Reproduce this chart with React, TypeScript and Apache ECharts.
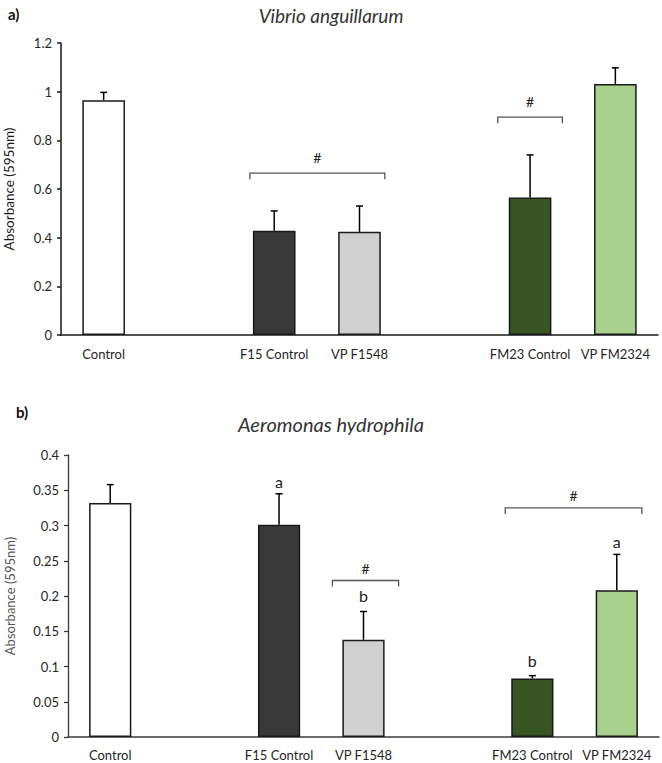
import React, { useEffect, useRef } from "react";
import * as echarts from "echarts";

// Treatment groups; empty strings are spacer slots between groups
const categories = ["Control", "", "F15 Control", "VP F1548", "", "FM23 Control", "VP FM2324"];

// Vibrio anguillarum: mean absorbance and standard deviation
const vibrioMean = [0.965, null, 0.428, 0.424, null, 0.565, 1.032];
const vibrioSd = [0.032, null, 0.082, 0.106, null, 0.175, 0.066];

// Aeromonas hydrophila: mean absorbance and standard deviation
const aeroMean = [0.332, null, 0.301, 0.138, null, 0.083, 0.208];
const aeroSd = [0.026, null, 0.044, 0.04, null, 0.004, 0.051];

// Significance brackets (category from/to, height in axis units)
const vibrioBrackets = [
  { from: "F15 Control", to: "VP F1548", y: 0.665, mark: "#" },
  { from: "FM23 Control", to: "FM23 Control", y: 0.895, mark: "#" },
];
const aeroBrackets = [
  { from: "VP F1548", to: "VP F1548", y: 0.222, mark: "#" },
  { from: "FM23 Control", to: "VP FM2324", y: 0.325, mark: "#" },
];

// Letters of statistical grouping
const aeroLetters = [
  { cat: "F15 Control", y: 0.362, text: "a" },
  { cat: "VP F1548", y: 0.201, text: "b" },
  { cat: "FM23 Control", y: 0.109, text: "b" },
  { cat: "VP FM2324", y: 0.277, text: "a" },
];

// Y axis ticks
const vibrioTicks = { min: 0, max: 1.2, interval: 0.2 };
const aeroTicks = { min: 0, max: 0.4, interval: 0.05 };

// Styling
const barColors = ["#ffffff", null, "#393939", "#d0d0d0", null, "#375623", "#a9d18e"];
const vibrioBracketPads = [[3, 4], [11, 11]];
const aeroBracketPads = [[10, 14], [6, 4]];
const FONT = "Lato, 'Open Sans', sans-serif";

function barSeries(values: (number | null)[], axisIndex: number) {
  return {
    type: "bar",
    xAxisIndex: axisIndex,
    yAxisIndex: axisIndex,
    barWidth: "50%",
    data: values.map((v, i) =>
      v == null
        ? "-"
        : {
            value: v,
            itemStyle: { color: barColors[i], borderColor: "#1a1a1a", borderWidth: 1.5 },
          }
    ),
    z: 2,
  };
}

function errorSeries(values: (number | null)[], sd: (number | null)[], axisIndex: number) {
  const data: number[][] = [];
  values.forEach((v, i) => {
    if (v != null && sd[i] != null) data.push([i, v, v + (sd[i] as number)]);
  });
  return {
    type: "custom",
    xAxisIndex: axisIndex,
    yAxisIndex: axisIndex,
    data,
    encode: { x: 0, y: [1, 2] },
    z: 3,
    renderItem: (_params: any, api: any) => {
      const base = api.coord([api.value(0), api.value(1)]);
      const top = api.coord([api.value(0), api.value(2)]);
      const style = { stroke: "#000", lineWidth: 1.5 };
      return {
        type: "group",
        children: [
          { type: "line", shape: { x1: base[0], y1: base[1], x2: top[0], y2: top[1] }, style },
          { type: "line", shape: { x1: top[0] - 3.5, y1: top[1], x2: top[0] + 3.5, y2: top[1] }, style },
        ],
      };
    },
  };
}

function bracketSeries(
  brackets: { from: string; to: string; y: number; mark: string }[],
  pads: number[][],
  axisIndex: number,
  markGap: number
) {
  return {
    type: "custom",
    xAxisIndex: axisIndex,
    yAxisIndex: axisIndex,
    data: brackets.map((b, i) => [categories.indexOf(b.from), categories.indexOf(b.to), b.y, i]),
    encode: { x: [0, 1], y: 2 },
    z: 4,
    renderItem: (_params: any, api: any) => {
      const i = api.value(3);
      const a = api.coord([api.value(0), api.value(2)]);
      const b = api.coord([api.value(1), api.value(2)]);
      const half = api.size([1, 0])[0] * 0.25;
      const x1 = a[0] - half - pads[i][0];
      const x2 = b[0] + half + pads[i][1];
      const y = a[1];
      return {
        type: "group",
        children: [
          {
            type: "polyline",
            shape: { points: [[x1, y + 6], [x1, y], [x2, y], [x2, y + 6]] },
            style: { stroke: "#555", lineWidth: 1.3, fill: null },
          },
          {
            type: "text",
            x: (x1 + x2) / 2,
            y: y - markGap,
            style: {
              text: brackets[i].mark,
              fontSize: 14,
              fontFamily: FONT,
              fill: "#222",
              align: "center",
              verticalAlign: "middle",
            },
          },
        ],
      };
    },
  };
}

function letterSeries(letters: { cat: string; y: number; text: string }[], axisIndex: number) {
  return {
    type: "custom",
    xAxisIndex: axisIndex,
    yAxisIndex: axisIndex,
    data: letters.map((l, i) => [categories.indexOf(l.cat), l.y, i]),
    encode: { x: 0, y: 1 },
    z: 4,
    renderItem: (_params: any, api: any) => {
      const p = api.coord([api.value(0), api.value(1)]);
      return {
        type: "text",
        x: p[0],
        y: p[1],
        style: {
          text: letters[api.value(2)].text,
          fontSize: 16,
          fontFamily: FONT,
          fill: "#222",
          align: "center",
          verticalAlign: "middle",
        },
      };
    },
  };
}

function xAxis(gridIndex: number, color: string, margin: number) {
  return {
    type: "category",
    gridIndex,
    data: categories,
    axisTick: { show: false },
    axisLine: { lineStyle: { color, width: 1.5 } },
    axisLabel: { interval: 0, color: "#262626", fontSize: 13, fontFamily: FONT, margin },
  };
}

export default function App() {
  const ref = useRef<HTMLDivElement>(null);

  useEffect(() => {
    if (!ref.current) return;
    const chart = echarts.init(ref.current, null, { renderer: "svg" });
    chart.setOption({
      animation: false,
      backgroundColor: "#ffffff",
      title: [
        {
          text: "Vibrio anguillarum",
          left: "center",
          top: 1,
          textStyle: { fontStyle: "italic", fontWeight: "normal", fontSize: 19, color: "#333", fontFamily: FONT },
        },
        {
          text: "Aeromonas hydrophila",
          left: "center",
          top: 409,
          textStyle: { fontStyle: "italic", fontWeight: "normal", fontSize: 20, color: "#333", fontFamily: FONT },
        },
      ],
      graphic: [
        {
          type: "text",
          left: 8,
          top: 6,
          style: { text: "a)", fontSize: 15, fontWeight: "bold", fontFamily: FONT, fill: "#111" },
        },
        {
          type: "text",
          left: 16,
          top: 404,
          style: { text: "b)", fontSize: 15, fontWeight: "bold", fontFamily: FONT, fill: "#111" },
        },
      ],
      grid: [
        { left: 61, right: 4, top: 43, height: 292, containLabel: false, outerBoundsMode: "none" },
        { left: 68, right: 3, top: 455, height: 282, containLabel: false, outerBoundsMode: "none" },
      ],
      xAxis: [xAxis(0, "#1a1a1a", 12), xAxis(1, "#3a3a3a", 11)],
      yAxis: [
        {
          type: "value",
          gridIndex: 0,
          ...vibrioTicks,
          name: "Absorbance (595nm)",
          nameLocation: "middle",
          nameRotate: 90,
          nameGap: 45,
          nameTextStyle: { fontSize: 13.5, color: "#1a1a1a", fontFamily: FONT },
          splitLine: { show: false },
          axisLine: { show: true, lineStyle: { color: "#1a1a1a", width: 1.5 } },
          axisTick: { show: true, length: 4, lineStyle: { color: "#1a1a1a", width: 1.5 } },
          axisLabel: { color: "#262626", fontSize: 13, fontFamily: FONT, margin: 9 },
        },
        {
          type: "value",
          gridIndex: 1,
          ...aeroTicks,
          name: "Absorbance (595nm)",
          nameLocation: "middle",
          nameRotate: 90,
          nameGap: 52,
          nameTextStyle: { fontSize: 13, color: "#555", fontFamily: FONT },
          splitLine: { show: false },
          axisLine: { show: true, lineStyle: { color: "#3a3a3a", width: 1.3 } },
          axisTick: { show: true, length: 4, lineStyle: { color: "#3a3a3a", width: 1.3 } },
          axisLabel: { color: "#262626", fontSize: 13, fontFamily: FONT, margin: 9 },
        },
      ],
      series: [
        barSeries(vibrioMean, 0),
        errorSeries(vibrioMean, vibrioSd, 0),
        bracketSeries(vibrioBrackets, vibrioBracketPads, 0, 16),
        barSeries(aeroMean, 1),
        errorSeries(aeroMean, aeroSd, 1),
        bracketSeries(aeroBrackets, aeroBracketPads, 1, 12),
        letterSeries(aeroLetters, 1),
      ],
    });
    return () => chart.dispose();
  }, []);

  return (
    <div
      ref={ref}
      style={{ position: "fixed", left: 0, top: 0, width: 662, height: 763, background: "#fff" }}
    />
  );
}
